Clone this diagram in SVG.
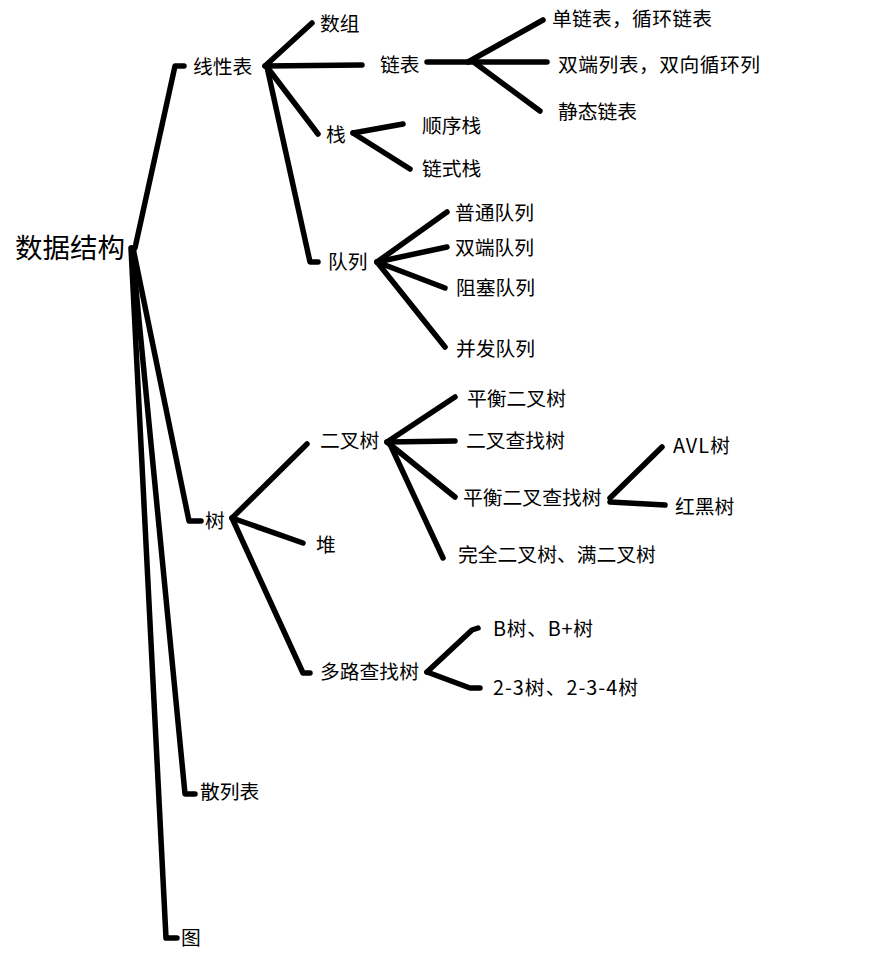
<svg xmlns="http://www.w3.org/2000/svg" width="874" height="978" viewBox="0 0 874 978">
<style>
.c{fill:none;stroke:#000;stroke-width:5.5;stroke-linecap:round;stroke-linejoin:round}
text{font-family:"Noto Sans CJK SC","Microsoft YaHei",sans-serif;font-size:19.8px;fill:#000}
.root{font-size:27.5px}
</style>
<rect width="874" height="978" fill="#fff"/>
<g id="connectors" class="c">
<path d="M135,248 L175,66 L184,66"/>
<path d="M133,248 L189,521 L201,521"/>
<path d="M132,248 L185,794 L195,794"/>
<path d="M131,248 L166,938 L177,938"/>
<path d="M265,66 L312,23"/>
<path d="M265,66 L362,65"/>
<path d="M267,67 L318,134"/>
<path d="M267,67 L310,262 L318,262"/>
<path d="M427,62 L547,62"/>
<path d="M468,62 L543,20"/>
<path d="M475,63 L540,111"/>
<path d="M353,133 L403,124"/>
<path d="M353,133 L410,169"/>
<path d="M377,262 L447,212"/>
<path d="M377,262 L447,247"/>
<path d="M377,262 L445,288"/>
<path d="M377,262 L445,347"/>
<path d="M232,518 L307,444"/>
<path d="M232,518 L303,543"/>
<path d="M232,518 L303,673 L310,673"/>
<path d="M387,442 L455,397"/>
<path d="M387,442 L455,441"/>
<path d="M387,442 L455,497"/>
<path d="M389,442 L443,558"/>
<path d="M610,498 L662,447"/>
<path d="M610,502 L665,505"/>
<path d="M427,672 L472,630 L478,628"/>
<path d="M427,672 L470,688 L480,688"/>
</g>
<g id="n-root"><text class="root" x="15" y="258" textLength="110" lengthAdjust="spacing">数据结构</text></g>
<g id="n-linear"><text x="193" y="74">线性表</text></g>
<g id="n-array"><text x="320" y="31">数组</text></g>
<g id="n-linked"><text x="380" y="72">链表</text></g>
<g id="n-single"><text x="552" y="26" textLength="160" lengthAdjust="spacing">单链表，循环链表</text></g>
<g id="n-double"><text x="558" y="72" textLength="202" lengthAdjust="spacing">双端列表，双向循环列</text></g>
<g id="n-static"><text x="558" y="119">静态链表</text></g>
<g id="n-stack"><text x="326" y="142">栈</text></g>
<g id="n-seqstack"><text x="422" y="133">顺序栈</text></g>
<g id="n-linkstack"><text x="422" y="176">链式栈</text></g>
<g id="n-queue"><text x="328" y="269">队列</text></g>
<g id="n-q1"><text x="455" y="220">普通队列</text></g>
<g id="n-q2"><text x="455" y="255">双端队列</text></g>
<g id="n-q3"><text x="456" y="295">阻塞队列</text></g>
<g id="n-q4"><text x="456" y="356">并发队列</text></g>
<g id="n-tree"><text x="205" y="528">树</text></g>
<g id="n-bintree"><text x="320" y="448">二叉树</text></g>
<g id="n-heap"><text x="316" y="552">堆</text></g>
<g id="n-multi"><text x="320" y="679">多路查找树</text></g>
<g id="n-bal"><text x="467" y="406">平衡二叉树</text></g>
<g id="n-bst"><text x="466" y="448">二叉查找树</text></g>
<g id="n-balbst"><text x="463" y="505">平衡二叉查找树</text></g>
<g id="n-full"><text x="458" y="562">完全二叉树、满二叉树</text></g>
<g id="n-avl"><text x="673" y="453" textLength="57" lengthAdjust="spacing">AVL树</text></g>
<g id="n-rb"><text x="675" y="514">红黑树</text></g>
<g id="n-btree"><text x="493" y="636" textLength="100" lengthAdjust="spacing">B树、B+树</text></g>
<g id="n-234"><text x="493" y="695" textLength="145" lengthAdjust="spacing">2-3树、2-3-4树</text></g>
<g id="n-hash"><text x="200" y="799">散列表</text></g>
<g id="n-graph"><text x="181" y="945">图</text></g>
</svg>
